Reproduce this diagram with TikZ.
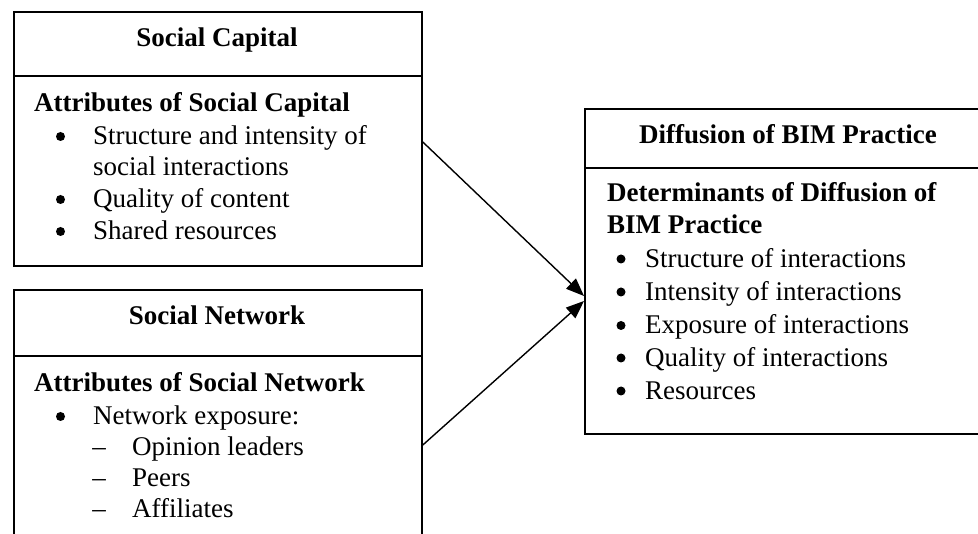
\documentclass[tikz,border=0pt]{standalone}
\usepackage{fontspec}
\setmainfont{Liberation Serif}
\usetikzlibrary{arrows.meta}
\begin{document}
\begin{tikzpicture}[x=1pt,y=-1pt,
  font=\fontsize{27}{32}\selectfont,
  box/.style={draw, line width=1.8pt, inner sep=0pt, anchor=north west},
  rule/.style={line width=1.8pt},
  title/.style={font=\fontsize{27}{32}\selectfont\bfseries, anchor=base, inner sep=0pt},
  head/.style={font=\fontsize{27}{32}\selectfont\bfseries, anchor=base west, inner sep=0pt},
  item/.style={anchor=base west, inner sep=0pt},
  bulletmark/.style={circle, fill, inner sep=0pt, minimum size=9pt},
  dashmark/.style={anchor=base, inner sep=0pt},
  link/.style={line width=1.4pt, -{Triangle[length=18pt,width=14pt]}}]
\clip (0,0) rectangle (978,534);
\useasboundingbox (0,0) rectangle (978,534);

% Social capital box
\node[box, minimum width=408pt, minimum height=254pt] (capital) at (13,11) {};
\draw[rule] (capital.west |- 0,76) -- (capital.east |- 0,76);
\node[title] (capt) at (217,47) {Social Capital};
\node[head] (caph) at (34,112) {Attributes of Social Capital};
\node[bulletmark] (capb1) at (60.5,136.5) {};
\node[item] (capi1) at (93,145) {Structure and intensity of};
\node[item] (capi1b) at (93,176) {social interactions};
\node[bulletmark] (capb2) at (60.5,199.5) {};
\node[item] (capi2) at (93,208) {Quality of content};
\node[bulletmark] (capb3) at (60.5,231.5) {};
\node[item] (capi3) at (93,240) {Shared resources};

% Social network box
\node[box, minimum width=408pt, minimum height=280pt] (network) at (13,289) {};
\draw[rule] (network.west |- 0,356) -- (network.east |- 0,356);
\node[title] (nett) at (217,325) {Social Network};
\node[head] (neth) at (34,392) {Attributes of Social Network};
\node[bulletmark] (netb1) at (60.5,416.5) {};
\node[item] (neti1) at (93,425) {Network exposure:};
\node[dashmark] (netd1) at (99,456) {–};
\node[item] (nets1) at (132,456) {Opinion leaders};
\node[dashmark] (netd2) at (99,487) {–};
\node[item] (nets2) at (132,487) {Peers};
\node[dashmark] (netd3) at (99,518) {–};
\node[item] (nets3) at (132,518) {Affiliates};

% Diffusion box (its right side runs past the page edge)
\node[box, minimum width=408pt, minimum height=325pt] (diffusion) at (584,108) {};
\draw[rule] (diffusion.west |- 0,168) -- (diffusion.east |- 0,168);
\node[title] (dift) at (788,144) {Diffusion of BIM Practice};
\node[head] (difh1) at (607,202) {Determinants of Diffusion of};
\node[head] (difh2) at (607,234) {BIM Practice};
\node[bulletmark] (difb1) at (621,259) {};
\node[item] (difi1) at (645,267.5) {Structure of interactions};
\node[bulletmark] (difb2) at (621,292) {};
\node[item] (difi2) at (645,300.5) {Intensity of interactions};
\node[bulletmark] (difb3) at (621,325.5) {};
\node[item] (difi3) at (645,334) {Exposure of interactions};
\node[bulletmark] (difb4) at (621,358) {};
\node[item] (difi4) at (645,366.5) {Quality of interactions};
\node[bulletmark] (difb5) at (621,391) {};
\node[item] (difi5) at (645,399.5) {Resources};

% Connectors
\coordinate (capout) at (capital.east |- 0,142);
\coordinate (netout) at (network.east |- 0,445);
\coordinate (difin1) at (diffusion.west |- 0,296);
\coordinate (difin2) at (diffusion.west |- 0,301);
\draw[link] (capout) -- (difin1);
\draw[link] (netout) -- (difin2);
\end{tikzpicture}
\end{document}
